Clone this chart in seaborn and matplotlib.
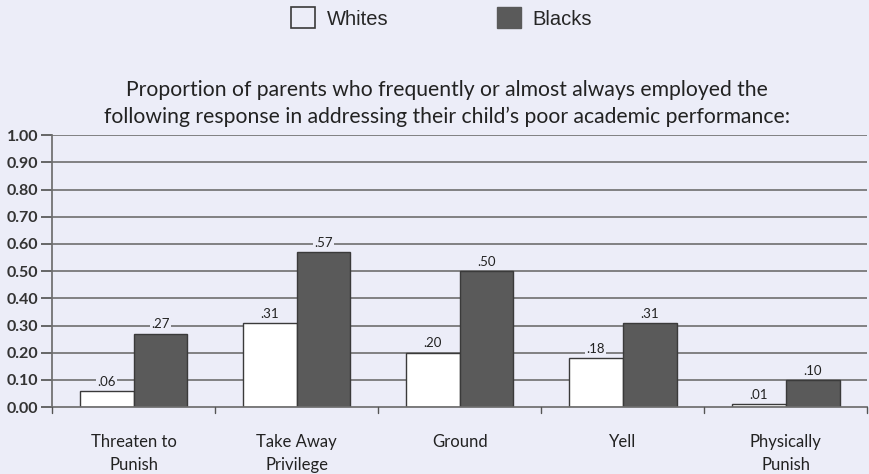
import seaborn as sns
import pandas as pd
from matplotlib import pyplot as plt

categories = ['Threaten to\nPunish', 'Take Away\nPrivilege', 'Ground', 'Yell', 'Physically\nPunish']
whites = [0.06, 0.31, 0.20, 0.18, 0.01]
blacks = [0.27, 0.57, 0.50, 0.31, 0.10]
groups = ['Whites', 'Blacks']

bg = '#ecedf8'

df = pd.DataFrame({
    'response': categories * 2,
    'group': ['Whites'] * len(categories) + ['Blacks'] * len(categories),
    'value': whites + blacks,
})

sns.set_theme(style='white')
plt.rcParams['font.family'] = ['Lato', 'DejaVu Sans']

fig = plt.figure(figsize=(8.69, 4.74), dpi=100, facecolor=bg)
ax = fig.add_axes([0.060, 0.141, 0.938, 0.574], facecolor=bg)

for y in [i / 10 for i in range(1, 11)]:
    ax.axhline(y, color='#6e6e6e', lw=1.2, zorder=0)

sns.barplot(data=df, x='response', y='value', hue='group', hue_order=groups,
            palette={'Whites': 'white', 'Blacks': '#5a5a5a'}, width=0.66,
            edgecolor='#3a3a3a', linewidth=1.0, saturation=1, legend=False,
            ax=ax, zorder=2)

for cont in ax.containers:
    for bar in cont:
        h = bar.get_height()
        ax.text(bar.get_x() + bar.get_width() / 2, h + 0.012, f'.{round(h * 100):02d}',
                ha='center', va='bottom', fontsize=9.5, color='#222222', zorder=3,
                bbox=dict(boxstyle='square,pad=0.1', fc=bg, ec='none'))

ax.set_xlim(-0.5, 4.5)
ax.set_ylim(0, 1.0)
ax.set_yticks([i / 10 for i in range(11)])
ax.set_yticklabels([f'{i / 10:.2f}' for i in range(11)], fontsize=11.5, fontweight='bold', color='#333333')
ax.set_xticks(range(len(categories)))
ax.set_xticklabels(categories, fontsize=12, color='#222222', linespacing=1.55)
ax.tick_params(axis='x', length=0, pad=19)
ax.tick_params(axis='y', length=8, direction='out', color='#555555', left=True, pad=2)
for b in [-0.5, 0.5, 1.5, 2.5, 3.5, 4.5]:
    ax.plot([b, b], [0, -0.022], color='#555555', lw=1, clip_on=False, zorder=3)
ax.set_xlabel('')
ax.set_ylabel('')
for s in ['top', 'right']:
    ax.spines[s].set_visible(False)
ax.spines['left'].set_color('#6e6e6e')
ax.spines['bottom'].set_color('#6e6e6e')

ax.set_title('Proportion of parents who frequently or almost always employed the\n'
             'following response in addressing their child\u2019s poor academic performance:',
             fontsize=15.2, color='#222222', pad=9, linespacing=1.4, x=0.484)

handles = [plt.Rectangle((0, 0), 1, 1, fc=bg, ec='#3a3a3a', lw=1.2),
           plt.Rectangle((0, 0), 1, 1, fc='#5a5a5a', ec='#5a5a5a', lw=1)]
fig.legend(handles, groups, loc='center', bbox_to_anchor=(0.508, 0.962), ncol=2,
           frameon=False, handlelength=1.2, handleheight=1.2,
           columnspacing=5.4, handletextpad=0.55,
           prop={'family': ['Liberation Sans'], 'size': 14.5})

fig.savefig('out.png', dpi=100, facecolor=bg)
